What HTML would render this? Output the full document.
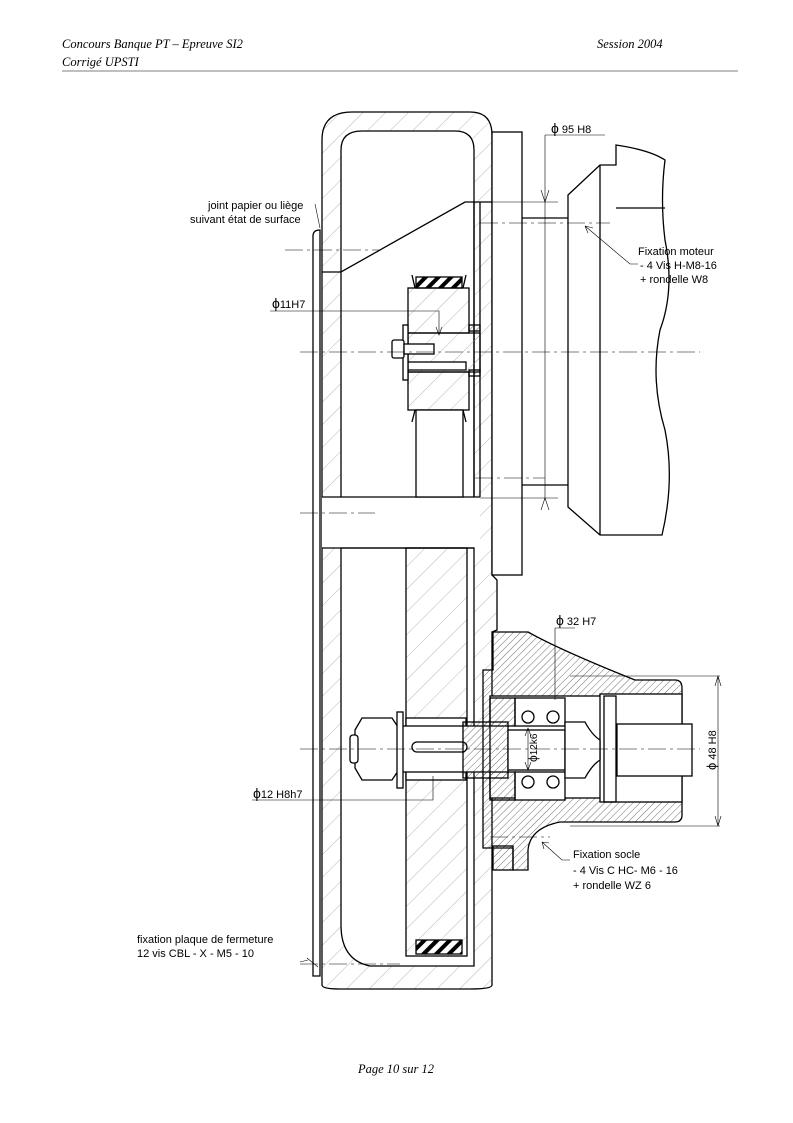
<!DOCTYPE html>
<html><head><meta charset="utf-8"><style>
html,body{margin:0;padding:0;background:#fff}
svg{display:block}
.h{font-family:"Liberation Serif",serif;font-style:italic;font-size:12.5px}
.t{font-family:"Liberation Sans",sans-serif;font-size:11px}
</style></head><body>
<svg width="793" height="1123" viewBox="0 0 793 1123" xmlns="http://www.w3.org/2000/svg">
<defs>
<pattern id="hw" width="16" height="16" patternUnits="userSpaceOnUse" patternTransform="rotate(45)"><line x1="0" y1="0" x2="0" y2="16" stroke="#888" stroke-width="0.6"/></pattern>
<pattern id="hd" width="5" height="5" patternUnits="userSpaceOnUse" patternTransform="rotate(45)"><line x1="0" y1="0" x2="0" y2="5" stroke="#333" stroke-width="0.7"/></pattern>
<pattern id="hb" width="9" height="9" patternUnits="userSpaceOnUse" patternTransform="rotate(45)"><rect x="0" y="0" width="4" height="9" fill="#000"/></pattern>
</defs>
<text class="h" x="62" y="48">Concours Banque PT – Epreuve SI2</text>
<text class="h" x="597" y="48">Session 2004</text>
<text class="h" x="62" y="66">Corrigé UPSTI</text>
<line x1="62" y1="71" x2="738" y2="71" stroke="#000" stroke-width="0.6"/>
<text class="h" x="358" y="1073">Page 10 sur 12</text>

<g fill="none" stroke="#000" stroke-width="1.3">
<path d="M322,985 L322,140 Q322,112 352,112 L470,112 Q492,112 492,135 L492,575 L497,580 L497,630 L492,632 L492,985 Q492,989 470,989 L340,989 Q322,989 322,985 Z" fill="url(#hw)"/>
<path d="M341,500 L341,150 Q341,131 362,131 L455,131 Q474,131 474,150 L474,497 Z" fill="#fff"/>
<rect x="322" y="497" width="158" height="51" fill="#fff" stroke="none"/>
<path d="M341,548 L341,925 Q341,960 370,966 L474,966 L474,548 Z" fill="#fff"/>
<path d="M313,236 Q313,230 320,230 L320,976 L313,976 Z" fill="#fff"/>
<path d="M322,272 L341,272 L465,202 L492,202" />
<line x1="474" y1="202" x2="474" y2="497"/>
<line x1="480" y1="202" x2="480" y2="497"/>
<line x1="322" y1="497" x2="480" y2="497"/>
<line x1="322" y1="548" x2="474" y2="548"/>
<rect x="492" y="132" width="30" height="443" fill="#fff"/>
<path d="M522,218 L568,218 M522,485 L568,485"/>
<path d="M568,195 L600,165 L616,165 L616,145 Q650,150 665,160 Q660,200 665,240 Q675,290 660,330 Q650,380 665,430 Q675,480 662,535 L600,535 L568,507 Z" fill="#fff"/>
<line x1="600" y1="165" x2="600" y2="535"/>
<line x1="616" y1="208" x2="665" y2="208"/>
<rect x="408" y="288" width="61" height="45" fill="url(#hw)"/>
<rect x="408" y="372" width="61" height="38" fill="url(#hw)"/>
<path d="M408,333 L469,333 L480,333 L480,372 L408,372 Z" fill="url(#hw)"/>
<rect x="408" y="362" width="58" height="8" fill="#fff"/>
<rect x="403" y="325" width="5" height="55" fill="#fff"/>
<rect x="392" y="340" width="12" height="18" rx="2" fill="#fff"/>
<rect x="404" y="344" width="30" height="10" fill="#fff"/>
<rect x="416" y="277" width="46" height="11" fill="url(#hb)"/>
<rect x="469" y="325" width="11" height="6" fill="url(#hd)"/>
<rect x="469" y="370" width="11" height="6" fill="url(#hd)"/>
<path d="M412,275 L415,288 M466,275 L463,288 M412,422 L415,410 M466,422 L463,410"/>
<rect x="416" y="410" width="47" height="87" fill="#fff"/>
<rect x="406" y="548" width="61" height="408" fill="url(#hw)"/>
<rect x="416" y="940" width="46" height="14" fill="url(#hb)"/>
<rect x="406" y="718" width="60" height="62" fill="#fff"/>
<rect x="400" y="726" width="130" height="46" fill="#fff"/>
<rect x="412" y="742" width="55" height="10" rx="5"/>
<path d="M355,730 L362,718 L392,718 L400,730 L400,768 L392,780 L362,780 L355,768 Z" fill="#fff"/>
<rect x="350" y="735" width="8" height="28" rx="3" fill="#fff"/>
<rect x="397" y="712" width="6" height="76" fill="#fff"/>
<path d="M493,632 L528,632 Q560,650 635,680 L675,680 Q682,680 682,688 L682,815 Q682,822 675,822 L560,822 Q530,828 528,850 L528,870 L513,870 L513,848 L483,848 L483,830 L483,670 L493,670 Z" fill="url(#hd)"/>
<rect x="490" y="696" width="125" height="102" fill="#fff"/>
<rect x="600" y="694" width="82" height="108" fill="#fff"/>
<rect x="515" y="698" width="50" height="28" fill="#fff"/>
<rect x="515" y="772" width="50" height="28" fill="#fff"/>
<rect x="490" y="698" width="25" height="28" fill="url(#hd)"/>
<rect x="490" y="772" width="25" height="28" fill="url(#hd)"/>
<circle cx="528" cy="717" r="6"/><circle cx="553" cy="717" r="6"/>
<circle cx="528" cy="782" r="6"/><circle cx="553" cy="782" r="6"/>
<rect x="463" y="722" width="45" height="56" fill="url(#hd)"/>
<rect x="508" y="730" width="57" height="40" fill="#fff"/>
<path d="M565,722 L585,722 Q592,735 600,740 L600,760 Q592,765 585,778 L565,778 Z" fill="#fff"/>
<rect x="617" y="724" width="75" height="52" fill="#fff"/>
<rect x="604" y="696" width="12" height="106"/>
<rect x="493" y="846" width="20" height="24" fill="url(#hd)"/>
</g>

<g stroke="#000" stroke-width="0.6" fill="none" stroke-dasharray="18,4,3,4">
<line x1="285" y1="250" x2="380" y2="250"/>
<line x1="300" y1="352" x2="700" y2="352"/>
<line x1="300" y1="513" x2="375" y2="513"/>
<line x1="300" y1="749" x2="700" y2="749"/>
<line x1="480" y1="223" x2="610" y2="223"/>
<line x1="475" y1="478" x2="545" y2="478"/>
<line x1="300" y1="964" x2="400" y2="964"/>
<line x1="490" y1="837" x2="550" y2="837"/>
</g>

<g stroke="#000" stroke-width="0.6" fill="none">
<path d="M545,135 L545,500 M545,135 L605,135 M477,202 L558,202 M480,498 L558,498"/>
<path d="M541,190 L545,202 L549,190 M541,510 L545,498 L549,510"/>
<path d="M270,311 L439,311 L439,335 M436,327 L439,335 L442,327"/>
<path d="M252,800 L433,800 L433,776"/>
<path d="M555,628 L555,700 M555,628 L575,628"/>
<path d="M528,728 L528,770 M525,736 L528,728 L531,736 M525,762 L528,770 L531,762"/>
<path d="M570,676 L720,676 M570,826 L720,826 M718,676 L718,826 M715,686 L718,676 L721,686 M715,816 L718,826 L721,816"/>
<path d="M315,204 L320,228 M307,958 L318,967 M300,962 L308,960"/>
<path d="M638,264 L630,264 L585,226 M585,226 L593,228 M585,226 L588,233"/>
<path d="M570,860 L562,860 L542,842 M542,842 L549,843 M542,842 L544,849"/>
</g>

<g class="t" fill="#000">
<text x="208" y="209">joint papier ou liège</text>
<text x="190" y="223">suivant état de surface</text>
<text x="272" y="308"><tspan font-size="14">ϕ</tspan>11H7</text>
<text x="551" y="133"><tspan font-size="14">ϕ</tspan> 95 H8</text>
<text x="638" y="255">Fixation moteur</text>
<text x="640" y="269">- 4 Vis H-M8-16</text>
<text x="640" y="283">+ rondelle W8</text>
<text x="556" y="625"><tspan font-size="14">ϕ</tspan> 32 H7</text>
<text x="253" y="798"><tspan font-size="14">ϕ</tspan>12 H8h7</text>
<text transform="translate(537,762) rotate(-90)" font-size="10"><tspan font-size="12">ϕ</tspan>12k6</text>
<text transform="translate(716,770) rotate(-90)"><tspan font-size="13">ϕ</tspan> 48 H8</text>
<text x="573" y="858">Fixation socle</text>
<text x="573" y="874">- 4 Vis C HC- M6 - 16</text>
<text x="573" y="889">+ rondelle WZ 6</text>
<text x="137" y="943">fixation plaque de fermeture</text>
<text x="137" y="957">12 vis CBL - X - M5 - 10</text>
</g>
</svg>
</body></html>
